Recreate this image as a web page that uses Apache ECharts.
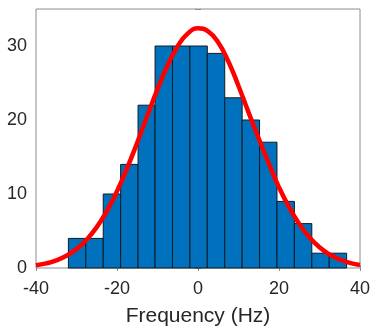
<!DOCTYPE html>
<html>
<head>
<meta charset="utf-8">
<script src="https://cdn.jsdelivr.net/npm/echarts@6/dist/echarts.min.js"></script>
<style>
  html, body { margin: 0; padding: 0; background: #fff; }
  #chart { width: 374px; height: 333px; }
</style>
</head>
<body>
<div id="chart"></div>
<script>
// histogram bins (Hz) and counts
var binEdges = [-32.0, -27.7, -23.4, -19.1, -14.8, -10.6, -6.3, -2.0, 2.3, 6.6, 10.9, 15.2, 19.5, 23.8, 28.1, 32.4, 36.7];
var counts = [4, 4, 10, 14, 22, 30, 30, 30, 29, 23, 20, 17, 9, 6, 2, 2];

// fitted curve
var curveX = [-40, -37.5, -35, -32.5, -30, -27.5, -25, -22.5, -20, -17.5, -15, -12.5, -10, -7.5, -5, -2.5, 0,
              2.5, 5, 7.5, 10, 12.5, 15, 17.5, 20, 22.5, 25, 27.5, 30, 32.5, 35, 37.5, 40];
var curveY = [0.36, 0.62, 1.03, 1.66, 2.56, 3.83, 5.52, 7.7, 10.37, 13.5, 16.96, 20.6, 24.16, 27.39, 29.98, 31.71, 32.39,
              31.97, 30.48, 27.9, 24.6, 21.0, 17.5, 14.1, 10.9, 8.2, 5.95, 4.15, 2.8, 1.82, 1.15, 0.7, 0.4];

var xTicks = [-40, -20, 0, 20, 40];
var yTicks = [0, 10, 20, 30];

var chart = echarts.init(document.getElementById('chart'));

var axisGray = '#8c8c8c';
var textCol = '#262626';
var font = 'Liberation Sans, Arial, Helvetica, sans-serif';

var binData = counts.map(function (c, i) { return [binEdges[i], binEdges[i + 1], c]; });
var curveData = curveX.map(function (x, i) { return [x, curveY[i]]; });

chart.setOption({
  animation: false,
  grid: {
    left: 36, right: 14, top: 9, bottom: 65,
    show: true, borderColor: axisGray, borderWidth: 1
  },
  xAxis: [
    {
      type: 'value', min: xTicks[0], max: xTicks[xTicks.length - 1], interval: 20,
      name: 'Frequency (Hz)', nameLocation: 'middle', nameGap: 38,
      nameTextStyle: { color: textCol, fontSize: 21, fontFamily: font },
      axisLine: { show: false },
      axisTick: { show: true, inside: true, length: 3, lineStyle: { color: axisGray } },
      axisLabel: { color: textCol, fontSize: 18, fontFamily: font, margin: 12 },
      splitLine: { show: false }
    },
    {
      type: 'value', position: 'top', min: xTicks[0], max: xTicks[xTicks.length - 1], interval: 20,
      axisLine: { show: false },
      axisTick: { show: true, inside: true, length: 3, lineStyle: { color: axisGray } },
      axisLabel: { show: false },
      splitLine: { show: false }
    }
  ],
  yAxis: [
    {
      type: 'value', min: 0, max: 35, interval: 10,
      axisLine: { show: false },
      axisTick: { show: true, inside: true, length: 3, lineStyle: { color: axisGray } },
      axisLabel: {
        color: textCol, fontSize: 18, fontFamily: font, margin: 9,
        formatter: function (v) { return yTicks.indexOf(v) >= 0 ? String(v) : ''; }
      },
      splitLine: { show: false }
    },
    {
      type: 'value', position: 'right', min: 0, max: 35, interval: 10,
      axisLine: { show: false },
      axisTick: { show: true, inside: true, length: 3, lineStyle: { color: axisGray } },
      axisLabel: { show: false },
      splitLine: { show: false }
    }
  ],
  series: [
    {
      type: 'custom',
      xAxisIndex: 0, yAxisIndex: 0,
      data: binData,
      encode: { x: [0, 1], y: 2 },
      renderItem: function (params, api) {
        var p0 = api.coord([api.value(0), api.value(2)]);
        var p1 = api.coord([api.value(1), 0]);
        return {
          type: 'rect',
          shape: { x: p0[0], y: p0[1], width: p1[0] - p0[0], height: p1[1] - p0[1] },
          style: { fill: '#0072BD', stroke: '#0d1a26', lineWidth: 1 }
        };
      },
      z: 2
    },
    {
      type: 'line',
      xAxisIndex: 0, yAxisIndex: 0,
      data: curveData,
      smooth: true,
      showSymbol: false,
      lineStyle: { color: '#ff0000', width: 4.5 },
      z: 3
    }
  ]
});
</script>
</body>
</html>
